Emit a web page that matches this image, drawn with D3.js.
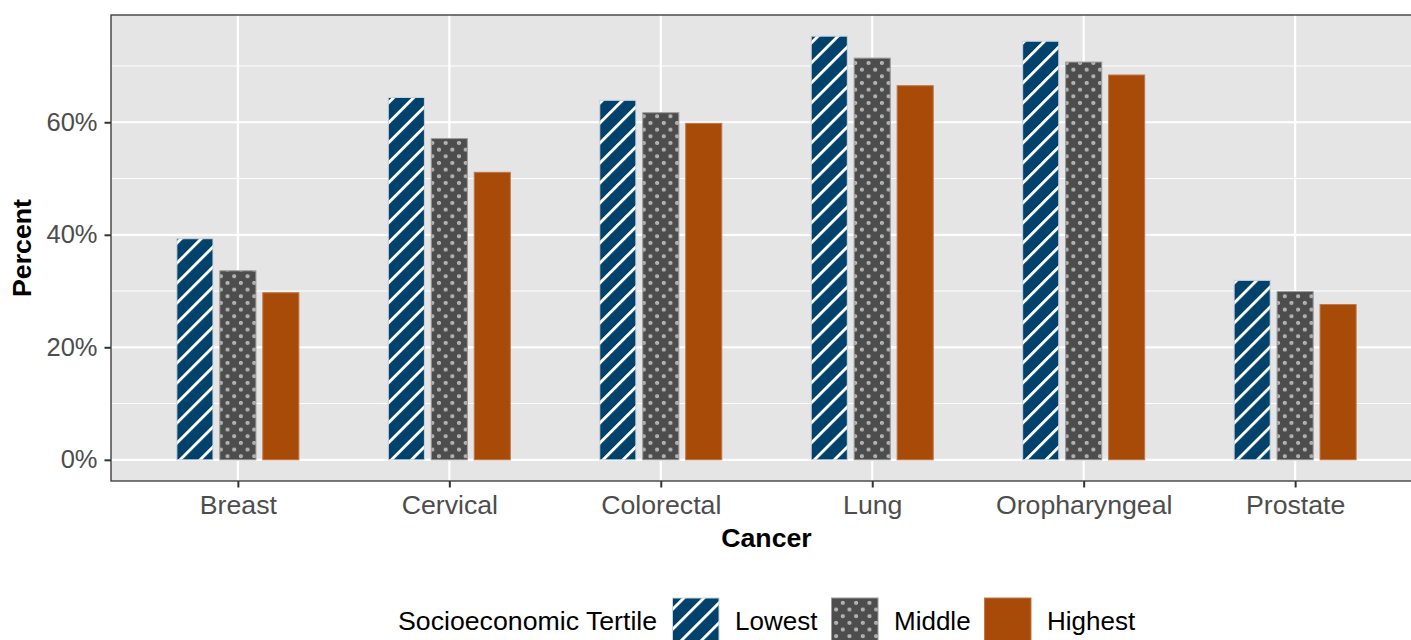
<!DOCTYPE html>
<html>
<head>
<meta charset="utf-8">
<script src="https://cdn.jsdelivr.net/npm/d3@7"></script>
<style>
  html, body { margin: 0; padding: 0; background: #fff; }
  svg { display: block; font-family: "Liberation Sans", Arial, Helvetica, sans-serif; }
</style>
</head>
<body>
<svg id="chart" width="1411" height="640"></svg>
<script>
// Share of patients (%) by cancer site and socioeconomic tertile
const cancers = ["Breast", "Cervical", "Colorectal", "Lung", "Oropharyngeal", "Prostate"];
const tertiles = ["Lowest", "Middle", "Highest"];
const lowest  = [39.3, 64.4, 63.9, 75.3, 74.4, 31.9];
const middle  = [33.6, 57.1, 61.7, 71.4, 70.7, 29.9];
const highest = [29.7, 51.1, 59.8, 66.5, 68.4, 27.6];
const yTicks = [0, 20, 40, 60];
const yMinor = [10, 30, 50, 70];

const seriesValues = { Lowest: lowest, Middle: middle, Highest: highest };
const rows = cancers.map((c, i) => ({
  cancer: c,
  values: tertiles.map(t => ({ tertile: t, value: seriesValues[t][i] }))
}));

const svg = d3.select("#chart");
const panel = { left: 111, top: 15, right: 1422, bottom: 481 };

// Discrete axis with 0.6 expansion on each side
const step = (panel.right - panel.left) / (cancers.length - 1 + 1.2);
const xAxisScale = d3.scalePoint().domain(cancers)
  .range([panel.left + 0.6 * step, panel.right - 0.6 * step]);
const groupW = 0.577 * step;
const xs = d3.scaleBand().domain(tertiles).range([-groupW / 2, groupW / 2]).paddingInner(0.16);

const yMax = d3.max([...lowest, ...middle, ...highest]);
const y = d3.scaleLinear()
  .domain([-0.05 * yMax, yMax * 1.05])
  .range([panel.bottom, panel.top]);

// Fill patterns
const defs = svg.append("defs");
const stripe = defs.append("pattern").attr("id", "pat-lowest")
  .attr("patternUnits", "userSpaceOnUse").attr("width", 14.14).attr("height", 14.14)
  .attr("patternTransform", "rotate(45)");
stripe.append("rect").attr("width", 14.14).attr("height", 14.14).attr("fill", "#00426c");
stripe.append("rect").attr("x", 0).attr("y", 0).attr("width", 2.9).attr("height", 14.14).attr("fill", "#ffffff");

const dots = defs.append("pattern").attr("id", "pat-middle")
  .attr("patternUnits", "userSpaceOnUse").attr("width", 13.33).attr("height", 13.33)
  .attr("x", 3).attr("y", 3);
dots.append("rect").attr("width", 13.33).attr("height", 13.33).attr("fill", "#4d4d4d");
[[0, 0], [13.33, 0], [0, 13.33], [13.33, 13.33], [6.67, 6.67]].forEach(([cx, cy]) => {
  dots.append("circle").attr("cx", cx).attr("cy", cy).attr("r", 2.0).attr("fill", "#cdcdcd");
  dots.append("circle").attr("cx", cx).attr("cy", cy).attr("r", 0.8).attr("fill", "#8a8a8a");
});

const fills = { Lowest: "url(#pat-lowest)", Middle: "url(#pat-middle)", Highest: "#a84a08" };
const strokes = { Lowest: "#c9d3dc", Middle: "#9a9a9a", Highest: "#c0774a" };

// Panel background
svg.append("rect")
  .attr("x", panel.left).attr("y", panel.top)
  .attr("width", panel.right - panel.left).attr("height", panel.bottom - panel.top)
  .attr("fill", "#e5e5e5");

// Grid lines
const grid = svg.append("g");
grid.selectAll(".ymin").data(yMinor).join("line")
  .attr("x1", panel.left).attr("x2", panel.right)
  .attr("y1", d => y(d)).attr("y2", d => y(d))
  .attr("stroke", "#ffffff").attr("stroke-width", 1.1);
grid.selectAll(".ymaj").data(yTicks).join("line")
  .attr("x1", panel.left).attr("x2", panel.right)
  .attr("y1", d => y(d)).attr("y2", d => y(d))
  .attr("stroke", "#ffffff").attr("stroke-width", 2.2);
grid.selectAll(".xmaj").data(cancers).join("line")
  .attr("x1", d => xAxisScale(d)).attr("x2", d => xAxisScale(d))
  .attr("y1", panel.top).attr("y2", panel.bottom)
  .attr("stroke", "#ffffff").attr("stroke-width", 2.2);

// Bars
const groups = svg.append("g").selectAll("g").data(rows).join("g")
  .attr("transform", d => `translate(${xAxisScale(d.cancer)},0)`);
groups.selectAll("rect").data(d => d.values).join("rect")
  .attr("x", d => xs(d.tertile))
  .attr("width", xs.bandwidth())
  .attr("y", d => y(d.value))
  .attr("height", d => y(0) - y(d.value))
  .attr("fill", d => fills[d.tertile])
  .attr("stroke", d => strokes[d.tertile])
  .attr("stroke-width", 1);

// Panel border
svg.append("rect")
  .attr("x", panel.left).attr("y", panel.top)
  .attr("width", panel.right - panel.left).attr("height", panel.bottom - panel.top)
  .attr("fill", "none").attr("stroke", "#333333").attr("stroke-width", 1.3);

// Y axis
const yAxis = svg.append("g").attr("transform", `translate(${panel.left},0)`)
  .call(d3.axisLeft(y).tickValues(yTicks).tickFormat(d => d + "%").tickSize(6.5).tickPadding(7));
yAxis.select(".domain").remove();
yAxis.selectAll(".tick line").attr("stroke", "#333333").attr("stroke-width", 2);
yAxis.selectAll(".tick text").attr("fill", "#4d4d4d").attr("font-size", 25.5)
  .attr("font-family", "Liberation Sans, Arial, sans-serif");

// X axis
const xAxis = svg.append("g").attr("transform", `translate(0,${panel.bottom})`)
  .call(d3.axisBottom(xAxisScale).tickSize(6.5).tickPadding(8));
xAxis.select(".domain").remove();
xAxis.selectAll(".tick line").attr("stroke", "#333333").attr("stroke-width", 2);
xAxis.selectAll(".tick text").attr("fill", "#4d4d4d").attr("font-size", 26.7)
  .attr("font-family", "Liberation Sans, Arial, sans-serif");

// Axis titles
const midX = (panel.left + panel.right) / 2;
svg.append("text").attr("x", midX).attr("y", 547)
  .attr("text-anchor", "middle").attr("font-size", 26.7).attr("font-weight", "bold")
  .attr("fill", "#000").text("Cancer");
svg.append("text")
  .attr("transform", `translate(31,${(panel.top + panel.bottom) / 2}) rotate(-90)`)
  .attr("text-anchor", "middle").attr("font-size", 26.7).attr("font-weight", "bold")
  .attr("fill", "#000").text("Percent");

// Legend
const legend = svg.append("g");
legend.append("text").attr("x", 398).attr("y", 630)
  .attr("font-size", 26.7).attr("fill", "#000").text("Socioeconomic Tertile");
const keyX = { Lowest: 672.5, Middle: 831.5, Highest: 984.5 };
const keySize = 46.5;
tertiles.forEach(t => {
  legend.append("rect").attr("x", keyX[t]).attr("y", 598)
    .attr("width", keySize).attr("height", keySize)
    .attr("fill", fills[t]).attr("stroke", strokes[t]).attr("stroke-width", 1);
  legend.append("text").attr("x", keyX[t] + keySize + 16).attr("y", 630)
    .attr("font-size", 26).attr("fill", "#000").text(t);
});
</script>
</body>
</html>
